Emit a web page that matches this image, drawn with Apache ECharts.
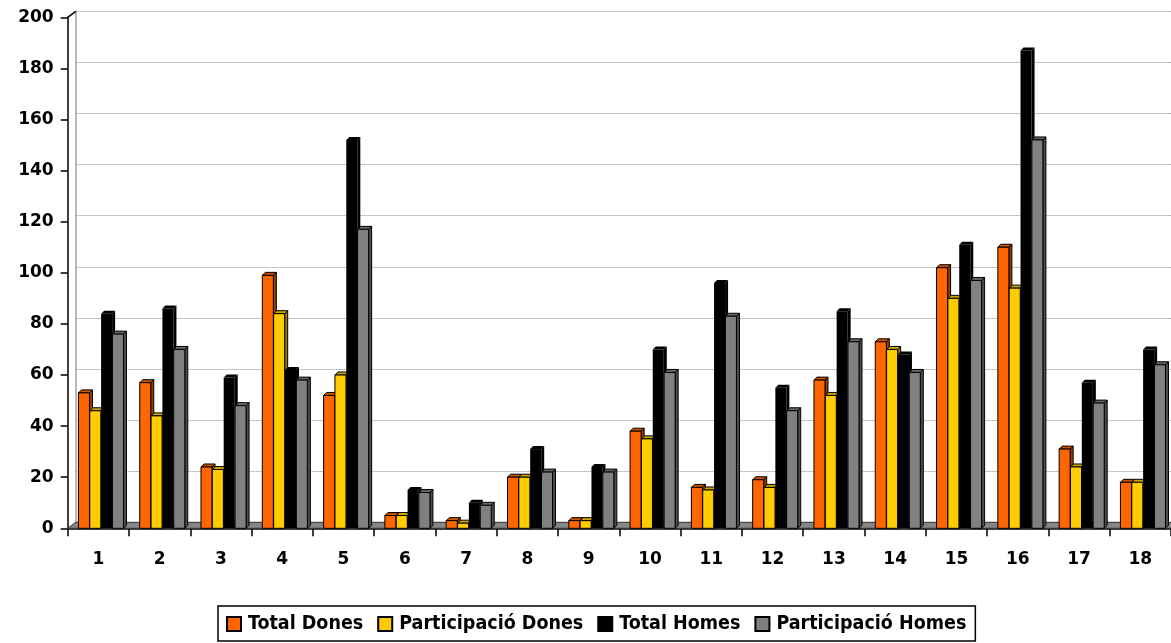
<!DOCTYPE html>
<html>
<head>
<meta charset="utf-8">
<script src="https://cdn.jsdelivr.net/npm/echarts@6/dist/echarts.min.js"></script>
<style>html,body{margin:0;padding:0;background:#fff;}#chart{width:1171px;height:643px;}</style>
</head>
<body>
<div id="chart"></div>
<script>
const categories = ['1','2','3','4','5','6','7','8','9','10','11','12','13','14','15','16','17','18'];
const yTicks = { min: 0, max: 200, interval: 20 };
const seriesNames = ['Total Dones', 'Participació Dones', 'Total Homes', 'Participació Homes'];
const totalDones        = [53, 57, 24, 99, 52, 5, 3, 20, 3, 38, 16, 19, 58, 73, 102, 110, 31, 18];
const participacioDones = [46, 44, 23, 84, 60, 5, 2, 20, 3, 35, 15, 16, 52, 70, 90, 94, 24, 18];
const totalHomes        = [84, 86, 59, 62, 152, 15, 10, 31, 24, 70, 96, 55, 85, 68, 111, 187, 57, 70];
const participacioHomes = [76, 70, 48, 58, 117, 14, 9, 22, 22, 61, 83, 46, 73, 61, 97, 152, 49, 64];

const seriesValues = [totalDones, participacioDones, totalHomes, participacioHomes];
const faceColors = [
  { front: '#FF6600', side: '#993D00', top: '#CC5200', stroke: '#000' },
  { front: '#FFCC00', side: '#997A00', top: '#CCA300', stroke: '#000' },
  { front: '#000000', side: '#000000', top: '#000000', stroke: null },
  { front: '#808080', side: '#4D4D4D', top: '#666666', stroke: '#000' }
];
const DEPTH_X = 3, DEPTH_Y = 3;       // bar 3D depth
const WALL_X = 8, WALL_Y = 6;         // back wall offset
const FONT = 'DejaVu Sans';
const LEGEND_FONT = '"DejaVu Sans Condensed", "DejaVu Sans"';

const chart = echarts.init(document.getElementById('chart'), null, { renderer: 'canvas' });

function barRenderer(s) {
  const c = faceColors[s];
  return function (params, api) {
    const idx = api.value(0);
    const val = api.value(1);
    const base = api.coord([idx, 0]);
    const top = api.coord([idx, val]);
    const catW = api.size([1, 0])[0];
    const bw = 0.18 * catW;
    const x0 = base[0] - 0.325 * catW + s * 0.185 * catW;
    const yT = top[1], yB = base[1];
    const style = (fill) => c.stroke ? { fill: fill, stroke: c.stroke, lineWidth: 1 } : { fill: fill };
    return {
      type: 'group',
      children: [
        { type: 'polygon', shape: { points: [[x0 + bw, yT], [x0 + bw + DEPTH_X, yT - DEPTH_Y], [x0 + bw + DEPTH_X, yB - DEPTH_Y], [x0 + bw, yB]] }, style: style(c.side) },
        { type: 'polygon', shape: { points: [[x0, yT], [x0 + DEPTH_X, yT - DEPTH_Y], [x0 + bw + DEPTH_X, yT - DEPTH_Y], [x0 + bw, yT]] }, style: style(c.top) },
        { type: 'rect', shape: { x: x0, y: yT, width: bw, height: yB - yT }, style: style(c.front) }
      ]
    };
  };
}

const barSeries = seriesNames.map((name, s) => ({
  name: name,
  type: 'custom',
  xAxisIndex: 0, yAxisIndex: 0,
  renderItem: barRenderer(s),
  itemStyle: { color: faceColors[s].front, borderColor: '#000', borderWidth: 1 },
  encode: { x: 0, y: 1 },
  data: seriesValues[s].map((v, i) => [i, v]),
  z: 3
}));

const floorSeries = {
  name: 'floor',
  type: 'custom',
  xAxisIndex: 0, yAxisIndex: 0,
  silent: true,
  z: 1,
  data: [[0, 0]],
  encode: { x: 0, y: 1 },
  renderItem: function (params, api) {
    const cs = params.coordSys;
    const yB = api.coord([0, 0])[1];
    const yTop = api.coord([0, yTicks.max])[1];
    const xL = cs.x, xR = cs.x + cs.width;
    return {
      type: 'group',
      children: [
        { type: 'polygon', shape: { points: [[xL, yB], [xR, yB], [xR + WALL_X, yB - WALL_Y], [xL + WALL_X, yB - WALL_Y]] },
          style: { fill: '#868686', stroke: '#333', lineWidth: 1 } },
        { type: 'line', shape: { x1: xL, y1: yTop, x2: xL + WALL_X, y2: yTop - WALL_Y }, style: { stroke: '#000', lineWidth: 1.5 } }
      ]
    };
  }
};

const option = {
  animation: false,
  backgroundColor: '#ffffff',
  textStyle: { fontFamily: FONT },
  legend: {
    data: seriesNames,
    left: 218, top: 606,
    orient: 'horizontal',
    icon: 'rect',
    itemWidth: 14, itemHeight: 14,
    itemGap: 14,
    padding: [8, 9, 7, 8],
    borderColor: '#000', borderWidth: 1.5,
    textStyle: { fontFamily: LEGEND_FONT, fontWeight: 'bold', fontSize: 19.5, color: '#000', padding: [0, 0, 0, 2] }
  },
  grid: [
    { left: 67.7, right: -2, top: 17.3, bottom: 114.7 },
    { left: 67.7 + WALL_X, right: -2 - WALL_X, top: 17.3 - WALL_Y, bottom: 114.7 + WALL_Y }
  ],
  xAxis: [
    { type: 'category', gridIndex: 0, data: categories, boundaryGap: true,
      axisLine: { show: true, lineStyle: { color: '#000', width: 1.5 } },
      axisTick: { show: true, length: 8, interval: 0, lineStyle: { color: '#000', width: 1.5 } },
      axisLabel: { interval: 0, fontFamily: FONT, fontWeight: 'bold', fontSize: 17, color: '#000', margin: 23 },
      splitLine: { show: false } },
    { type: 'category', gridIndex: 1, data: categories, position: 'top',
      axisLine: { show: true, lineStyle: { color: '#8C8C8C', width: 2 } },
      axisTick: { show: false }, axisLabel: { show: false }, splitLine: { show: false } }
  ],
  yAxis: [
    { type: 'value', gridIndex: 0, min: yTicks.min, max: yTicks.max, interval: yTicks.interval,
      axisLine: { show: true, lineStyle: { color: '#000', width: 1.5 } },
      axisTick: { show: true, length: 7, lineStyle: { color: '#000', width: 1.5 } },
      axisLabel: { fontFamily: FONT, fontWeight: 'bold', fontSize: 17, color: '#000', margin: 14 },
      splitLine: { show: false } },
    { type: 'value', gridIndex: 1, min: yTicks.min, max: yTicks.max, interval: yTicks.interval,
      axisLine: { show: true, lineStyle: { color: '#A0A0A0', width: 1.5 } },
      axisTick: { show: false }, axisLabel: { show: false },
      splitLine: { show: true, lineStyle: { color: '#8C8C8C', width: 1, type: 'dotted' } } }
  ],
  series: [floorSeries].concat(barSeries)
};
chart.setOption(option);
</script>
</body>
</html>
